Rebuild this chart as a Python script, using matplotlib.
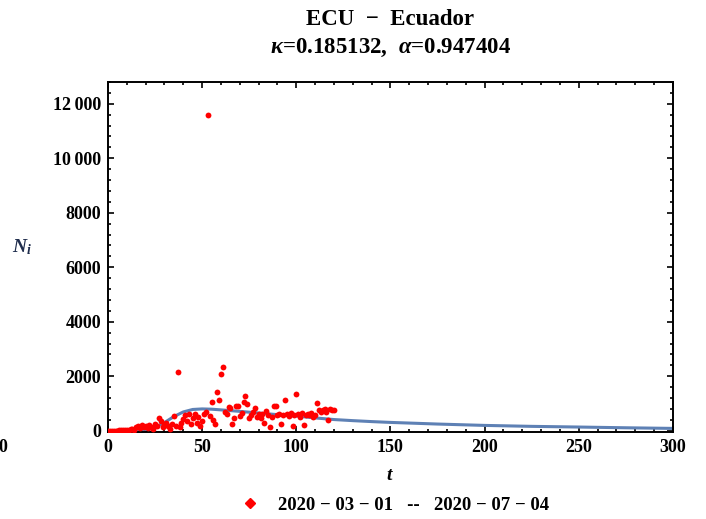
import numpy as np
import matplotlib.pyplot as plt
from matplotlib.ticker import MultipleLocator, FuncFormatter
from matplotlib.lines import Line2D

plt.rcParams['font.family'] = ['Liberation Serif', 'DejaVu Serif']
plt.rcParams['font.weight'] = 'bold'
plt.rcParams['mathtext.fontset'] = 'custom'
plt.rcParams['mathtext.rm'] = 'Liberation Serif:bold'
plt.rcParams['mathtext.it'] = 'Liberation Serif:italic:bold'
plt.rcParams['mathtext.bf'] = 'Liberation Serif:bold'

# daily new cases, 2020-03-01 -- 2020-07-04
days = np.arange(0, 121)
cases = [0, 0, 0, 0, 0, 5, 10, 15, 20, 30,
         20, 40, 60, 80, 30, 120, 160, 100, 220, 140,
         160, 90, 200, 150, 60, 250, 180, 464, 340, 120,
         220, 300, 180, 80, 260, 523, 157, 2170, 140, 300,
         420, 560, 350, 620, 250, 480, 600, 300, 520, 180,
         350, 620, 700, 11600, 523, 1050, 400, 230, 1415, 1135,
         2075, 2350, 700, 600, 853, 850, 245, 464, 925, 900,
         540, 650, 1050, 1290, 975, 464, 560, 700, 840, 520,
         600, 450, 620, 300, 731, 560, 130, 500, 900, 890,
         560, 600, 230, 580, 1135, 620, 540, 660, 180, 560,
         1354, 600, 520, 650, 220, 560, 600, 580, 640, 500,
         560, 1013, 770, 700, 750, 800, 700, 400, 780, 745,
         760]

# model curve
t_fit = [0, 10, 20, 25, 30, 35, 40, 45, 50, 55, 60, 70, 80, 90, 100,
         110, 120, 130, 140, 150, 175, 200, 225, 250, 275, 300]
n_fit = [0, 5, 40, 120, 300, 520, 690, 780, 800, 790, 765, 710, 650, 590, 537,
         470, 410, 370, 335, 305, 245, 195, 160, 135, 108, 85]

fig = plt.figure(figsize=(7.06, 5.19), dpi=100)
ax = fig.add_axes([0.153, 0.168, 0.800, 0.674])

ax.plot(t_fit, n_fit, color='#5E81B5', lw=2.2, zorder=2)
ax.plot(days, cases, 'o', color='#FF0000', ms=4.2, mec='none', zorder=3)

ax.set_xlim(0, 300)
ax.set_ylim(-40, 12800)
ax.xaxis.set_major_locator(MultipleLocator(50))
ax.xaxis.set_minor_locator(MultipleLocator(10))
ax.yaxis.set_major_locator(MultipleLocator(2000))
ax.yaxis.set_minor_locator(MultipleLocator(400))
ax.yaxis.set_major_formatter(FuncFormatter(
    lambda v, p: f'{int(v):,}'.replace(',', '\u2009') if v >= 10000 else f'{int(v)}'))
ax.tick_params(which='both', direction='in', top=True, right=True, labelsize=13,
               width=1.2, colors='black')
ax.tick_params(which='major', length=4.5, pad=5)
ax.tick_params(which='minor', length=2.5)
for lab in ax.get_xticklabels() + ax.get_yticklabels():
    lab.set_fontweight('bold')
for s in ax.spines.values():
    s.set_linewidth(1.4)

ax.set_xlabel('$t$', fontsize=14, labelpad=8)
ax.set_ylabel('$N_i$', fontsize=14, rotation=0, color='#1f2d4d')
ax.yaxis.set_label_coords(-0.152, 0.50)

fig.text(0.553, 0.963, 'ECU  \u2212  Ecuador', ha='center', va='center', fontsize=16.5,
         fontweight='bold')
fig.text(0.553, 0.907, r'$\kappa$=0.185132,  $\alpha$=0.947404', ha='center',
         va='center', fontsize=16.5, fontweight='bold')

handle = Line2D([], [], marker='D', color='#FF0000', ls='none', ms=5.5)
fig.legend([handle], ['2020 \u2212 03 \u2212 01   --   2020 \u2212 07 \u2212 04'],
           loc='center', bbox_to_anchor=(0.553, 0.027), frameon=False,
           prop={'weight': 'bold', 'size': 13.5}, handletextpad=0.5)

fig.text(-0.002, 1 - 447 / 519, '0', ha='left', va='center', fontsize=13,
         fontweight='bold')

fig.savefig('out.png', dpi=100)
